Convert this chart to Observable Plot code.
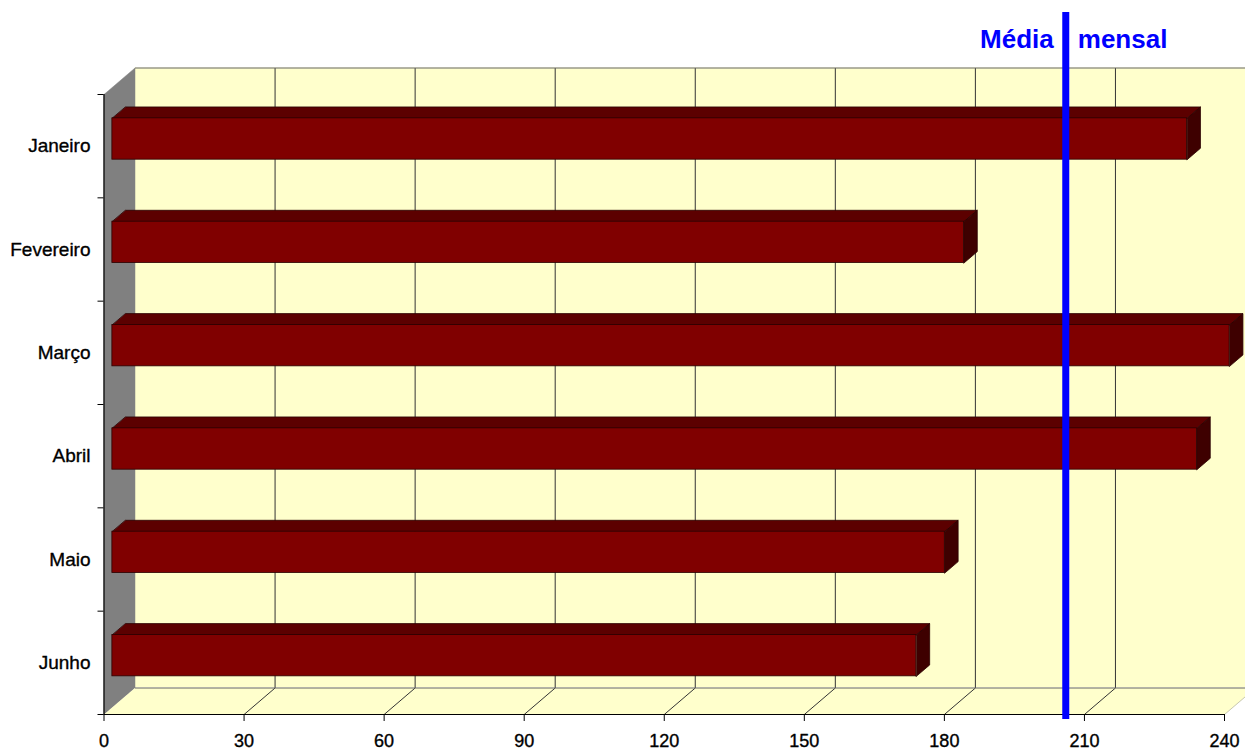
<!DOCTYPE html>
<html><head><meta charset="utf-8">
<script src="https://cdn.jsdelivr.net/npm/d3@7"></script>
<script src="https://cdn.jsdelivr.net/npm/@observablehq/plot@0.6"></script>
<style>body{margin:0;background:#fff} svg{display:block}</style>
</head><body><div id="chart"></div>
<script>
// ---- data ----
const months = ["Janeiro", "Fevereiro", "Março", "Abril", "Maio", "Junho"];
const values = [230.2, 182.4, 239.3, 232.3, 178.3, 172.2];
const xTicks = [0, 30, 60, 90, 120, 150, 180, 210, 240];
const media = 206;
const mediaLabel = ["Média", "mensal"];

// ---- layout / pseudo-3D projection ----
const W = 1245, H = 751;
const X0 = 103.5, X1 = 1224, Y0 = 94, Y1 = 714;
const xMax = 240, rows = months.length;
const kx = (X1 - X0) / xMax, ky = (Y1 - Y0) / rows;
const DEPTH_X = 31, DEPTH_Y = 26.5;
// value v, row position r, depth d (0 = front, 1 = back wall) -> data coords
const P = (v, r, d) => ({x: v + d * DEPTH_X / kx, y: r - d * DEPTH_Y / ky});

const poly = (key, pts) => pts.map(p => ({key, ...p}));
const seg = (a, b) => ({x1: a.x, y1: a.y, x2: b.x, y2: b.y});

const backA = P(0, 0, 1), backB = P(xMax, rows, 1);
const backWall = [{x1: backA.x, x2: backB.x, y1: backA.y, y2: backB.y}];
const leftWall = poly("left", [P(0,0,0), P(0,0,1), P(0,rows,1), P(0,rows,0)]);
const floor = poly("floor", [P(0,rows,0), P(0,rows,1), P(xMax,rows,1), P(xMax,rows,0)]);

const gridBack = xTicks.filter(t => t > 0 && t < xMax).map(t => seg(P(t,0,1), P(t,rows,1)));
const gridFloor = xTicks.filter(t => t > 0 && t < xMax).map(t => seg(P(t,rows,0), P(t,rows,1)));
const wallEdges = [seg(P(0,0,1), P(xMax,0,1)), seg(P(0,rows,1), P(xMax,rows,1))];
const floorRight = [seg(P(xMax,rows,0), P(xMax,rows,1))];

const dF = 0.27, dB = 0.70, r0 = 0.3, r1 = 0.7;
const fronts = [], tops = [], sides = [];
months.forEach((m, i) => {
  const v = values[i];
  const a = P(0, i + r0, dF), b = P(v, i + r1, dF);
  fronts.push({x1: a.x, x2: b.x, y1: a.y, y2: b.y});
  tops.push(...poly(m, [P(0,i+r0,dF), P(v,i+r0,dF), P(v,i+r0,dB), P(0,i+r0,dB)]));
  sides.push(...poly(m, [P(v,i+r0,dF), P(v,i+r0,dB), P(v,i+r1,dB), P(v,i+r1,dF)]));
});

const rowEdges = d3.range(rows + 1);
const rowCenters = months.map((m, i) => i + 0.5);

const font = "'Liberation Sans', Arial, sans-serif";
const chart = Plot.plot({
  width: W, height: H,
  marginLeft: X0, marginRight: W - X1, marginTop: 12, marginBottom: H - Y1,
  style: {fontFamily: font, background: "#fff", color: "#000"},
  x: {domain: [0, xMax], range: [X0, X1], axis: null},
  y: {type: "linear", domain: [0, rows], range: [Y0, Y1], axis: null},
  marks: [
    Plot.rect(backWall, {x1: "x1", x2: "x2", y1: "y1", y2: "y2", fill: "#FFFFCC"}),
    Plot.line(leftWall, {x: "x", y: "y", z: "key", fill: "#808080", stroke: "#808080", strokeWidth: 0.5, curve: "linear-closed"}),
    Plot.line(floor, {x: "x", y: "y", z: "key", fill: "#FFFFCC", stroke: "none", curve: "linear-closed"}),
    Plot.link(gridBack, {x1: "x1", y1: "y1", x2: "x2", y2: "y2", stroke: "#333", strokeWidth: 1}),
    Plot.link(gridFloor, {x1: "x1", y1: "y1", x2: "x2", y2: "y2", stroke: "#333", strokeWidth: 1}),
    Plot.link(wallEdges, {x1: "x1", y1: "y1", x2: "x2", y2: "y2", stroke: "#666", strokeWidth: 1}),
    Plot.link(floorRight, {x1: "x1", y1: "y1", x2: "x2", y2: "y2", stroke: "#c8c8b0", strokeWidth: 1}),
    // bars
    Plot.line(tops, {x: "x", y: "y", z: "key", fill: "#5C0000", stroke: "#2a0000", strokeWidth: 0.8, curve: "linear-closed"}),
    Plot.line(sides, {x: "x", y: "y", z: "key", fill: "#3E0000", stroke: "#2a0000", strokeWidth: 0.8, curve: "linear-closed"}),
    Plot.rect(fronts, {x1: "x1", x2: "x2", y1: "y1", y2: "y2", fill: "#800000", stroke: "#2a0000", strokeWidth: 0.8}),
    // axes
    Plot.ruleY([rows], {x1: 0, x2: xMax, stroke: "#000", strokeWidth: 1.2}),
    Plot.ruleX([0], {y1: 0, y2: rows, stroke: "#000", strokeWidth: 1.2}),
    Plot.axisX(xTicks, {tickSize: 7, tickPadding: 13, fontSize: 18, label: null, tickFormat: d => String(d),
      textStroke: "#000", textStrokeWidth: 0.35}),
    Plot.axisY(rowEdges, {tickSize: 6, tickFormat: () => "", label: null}),
    Plot.axisY(rowCenters, {tickSize: 0, tickPadding: 13.5, fontSize: 19, label: null,
      textStroke: "#000", textStrokeWidth: 0.35,
      tickFormat: d => months[Math.floor(d)]}),
    // média mensal
    Plot.ruleX([media], {stroke: "#0000FF", strokeWidth: 7, insetBottom: -5}),
    Plot.text([mediaLabel[0]], {x: () => media, text: d => d, frameAnchor: "top", lineAnchor: "middle", dy: 27, dx: -12,
      textAnchor: "end", fill: "#0000FF", fontWeight: "bold", fontSize: 26}),
    Plot.text([mediaLabel[1]], {x: () => media, text: d => d, frameAnchor: "top", lineAnchor: "middle", dy: 27, dx: 12,
      textAnchor: "start", fill: "#0000FF", fontWeight: "bold", fontSize: 26})
  ]
});
document.getElementById("chart").appendChild(chart);
</script>
</body></html>
